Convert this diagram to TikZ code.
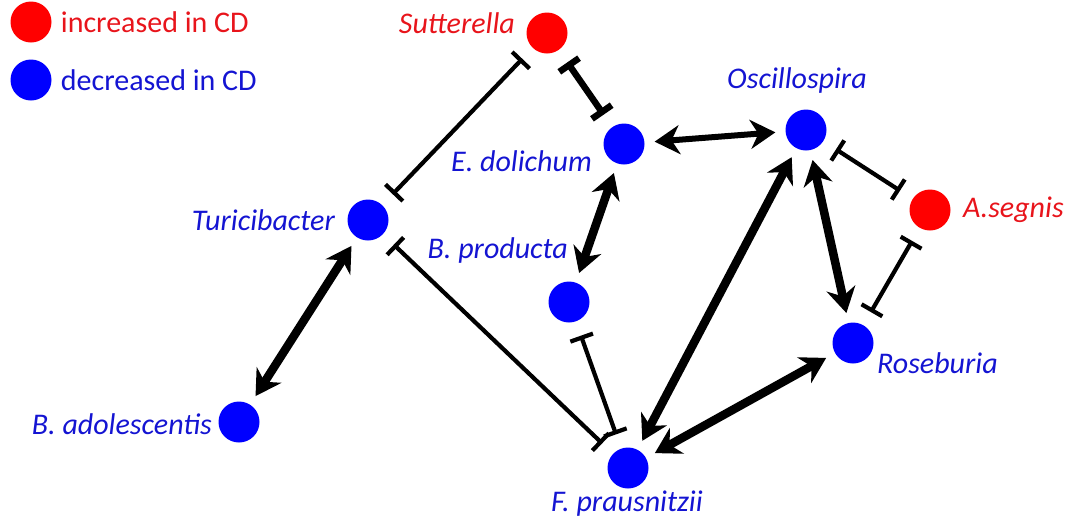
\documentclass[tikz,border=0pt]{standalone}
\usepackage{fontspec}
\setmainfont{Carlito}
\usetikzlibrary{arrows.meta,positioning}
\definecolor{upcd}{HTML}{FF0000}
\definecolor{downcd}{HTML}{0000FF}
\definecolor{uptext}{HTML}{E8141B}
\definecolor{downtext}{HTML}{1414D2}
\tikzset{
  taxon/.style={
    circle, fill=#1, minimum size=41pt, inner sep=0pt
  },
  taxon/.default=downcd,
  taxlabel/.style={
    font=\fontsize{30}{34}\selectfont\itshape, text=#1, inner sep=0pt
  },
  taxlabel/.default=downtext,
  legtext/.style={
    font=\fontsize{30}{34}\selectfont, text=#1, inner sep=0pt
  },
  promote/.style={
    {Stealth[length=25pt,width=29pt,inset=8pt]}-{Stealth[length=25pt,width=29pt,inset=8pt]},
    line width=#1, shorten >=10pt, shorten <=10pt
  },
  promote/.default=8.5pt,
  inhibit/.style={
    {Bar[width=24pt]}-{Bar[width=24pt]},
    line width=#1, shorten >=15pt, shorten <=15pt
  },
  inhibit/.default=4.2pt,
}

\begin{document}
\begin{tikzpicture}[x=1pt, y=-1pt, node distance=9pt]
  \useasboundingbox (0,0) rectangle (1068,523);

  % legend
  \node[taxon=upcd] (legup) at (31,22) {};
  \node[taxon=downcd] (legdown) at (31,80) {};
  \node[legtext=uptext, right=of legup] (leguptxt) {increased in CD};
  \node[legtext=downtext, right=of legdown] (legdowntxt) {decreased in CD};

  % taxa
  \node[taxon=upcd] (sut) at (547,33) {};
  \node[taxon] (edol) at (624,144) {};
  \node[taxon] (osc) at (806,130) {};
  \node[taxon=upcd] (aseg) at (930,210) {};
  \node[taxon] (turi) at (368,220) {};
  \node[taxon] (bprod) at (569,302) {};
  \node[taxon] (rose) at (853,343) {};
  \node[taxon] (bado) at (239,422) {};
  \node[taxon] (fprau) at (628,468) {};

  \node[taxlabel=uptext, anchor=east] (sutlab) at (515,23) {Sutterella};
  \node[taxlabel, anchor=east] (edollab) at (592,161) {E. dolichum};
  \node[taxlabel] (osclab) at (797,80) {Oscillospira};
  \node[taxlabel=uptext, anchor=west] (aseglab) at (963,210) {A.segnis};
  \node[taxlabel, anchor=east] (turilab) at (335,220) {Turicibacter};
  \node[taxlabel, anchor=east] (bprodlab) at (568,250) {B. producta};
  \node[taxlabel, anchor=west] (roselab) at (877,363) {Roseburia};
  \node[taxlabel, anchor=east] (badolab) at (212,424) {B. adolescentis};
  \node[taxlabel] (fpraulab) at (627,504) {F. prausnitzii};

  % inhibitions
  \draw[inhibit] (sut) -- (turi);
  \draw[inhibit=6.5pt] (sut) -- (edol);
  \draw[inhibit] (turi) -- (fprau);
  \draw[inhibit] (bprod) -- (fprau);
  \draw[inhibit] (osc) -- (aseg);
  \draw[inhibit] (aseg) -- (rose);

  % mutual promotion
  \draw[promote=6pt] (edol) -- (osc);
  \draw[promote] (edol) -- (bprod);
  \draw[promote] (turi) -- (bado);
  \draw[promote] (osc) -- (fprau);
  \draw[promote] (osc) -- (rose);
  \draw[promote] (rose) -- (fprau);
\end{tikzpicture}
\end{document}
